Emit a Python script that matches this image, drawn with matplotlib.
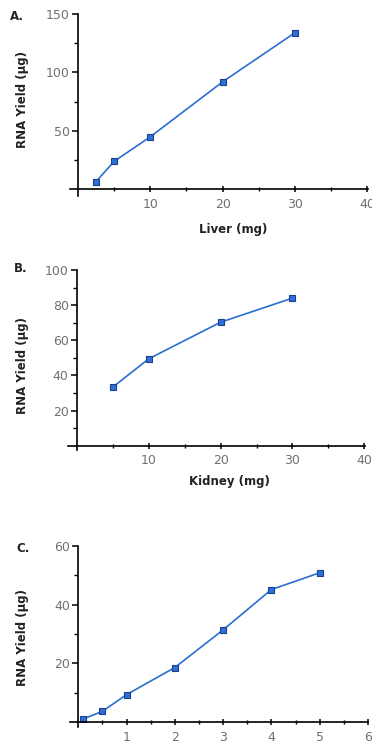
import matplotlib
matplotlib.use("Agg")
import matplotlib.pyplot as plt
from matplotlib.ticker import FixedLocator

# Panel A: liver
liver_mg = [2.5, 5, 10, 20, 30]
liver_yield = [6.7, 24, 45, 92, 134]
# Panel B: kidney
kidney_mg = [5, 10, 20, 30]
kidney_yield = [33.4, 49.5, 70.3, 84]
# Panel C
c_x = [0.1, 0.5, 1, 2, 3, 4, 5]
c_yield = [1.1, 3.7, 9.4, 18.6, 31.4, 45.1, 50.8]

LINE_COLOR = "#2a6fd0"
FACE_COLOR = "#2f6fd6"
EDGE_COLOR = "#1a3f90"
TICK_COLOR = "#707070"

W, H = 372, 744
fig = plt.figure(figsize=(W / 100, H / 100), dpi=100)


def px_axes(left, right, top, bottom):
    return fig.add_axes([left / W, 1 - bottom / H, (right - left) / W, (bottom - top) / H])


def style(ax, xlim, ylim, xmajor, xminor, ymajor, yminor):
    ax.set_xlim(*xlim)
    ax.set_ylim(*ylim)
    for s in ("top", "right"):
        ax.spines[s].set_visible(False)
    ax.spines["left"].set_position(("data", 0))
    ax.spines["bottom"].set_position(("data", 0))
    ax.spines["left"].set_linewidth(1.2)
    ax.spines["bottom"].set_linewidth(1.2)
    ax.xaxis.set_major_locator(FixedLocator(xmajor))
    ax.xaxis.set_minor_locator(FixedLocator(xminor))
    ax.yaxis.set_major_locator(FixedLocator(ymajor))
    ax.yaxis.set_minor_locator(FixedLocator(yminor))
    ax.tick_params(axis="both", which="major", length=4, width=1.1, labelsize=9,
                   labelcolor=TICK_COLOR, pad=2)
    ax.tick_params(axis="x", which="major", pad=4)
    ax.tick_params(axis="both", which="minor", length=3, width=1.0)
    ax.tick_params(axis="x", which="both", direction="inout")
    ax.patch.set_alpha(0)


def draw(ax, x, y):
    ax.plot(x, y, color=LINE_COLOR, linewidth=1.2, marker="s", markersize=5,
            markerfacecolor=FACE_COLOR, markeredgecolor=EDGE_COLOR, markeredgewidth=0.8,
            clip_on=False)


# A
axA = px_axes(70, 368, 14, 196)
draw(axA, liver_mg, liver_yield)
style(axA, (-1.1, 40.1), (-5.6, 150), [10, 20, 30, 40], [5, 15, 25, 35],
      [50, 100, 150], [25, 75, 125])

# B
axB = px_axes(68, 365, 270, 450)
draw(axB, kidney_mg, kidney_yield)
style(axB, (-1.25, 40.1), (-2.4, 100), [10, 20, 30, 40], [5, 15, 25, 35],
      [20, 40, 60, 80, 100], [10, 30, 50, 70, 90])

# C
axC = px_axes(70, 368, 545.7, 727)
draw(axC, c_x, c_yield)
style(axC, (-0.17, 6.0), (-1.6, 60), [1, 2, 3, 4, 5, 6], [0.5, 1.5, 2.5, 3.5, 4.5, 5.5],
      [20, 40, 60], [10, 30, 50])

# panel letters
for label, (px, py) in {"A.": (17, 16), "B.": (21, 268), "C.": (23, 548)}.items():
    fig.text(px / W, 1 - py / H, label, fontsize=8.5, fontweight="bold",
             ha="center", va="center", color="#222222")

# y labels
for cy in (100, 365, 637):
    fig.text(23 / W, 1 - cy / H, "RNA Yield (µg)", rotation=90, fontsize=8.5,
             fontweight="bold", ha="center", va="center", color="#222222")

# x labels
fig.text(233 / W, 1 - 230 / H, "Liver (mg)", fontsize=8.5, fontweight="bold",
         ha="center", va="center", color="#222222")
fig.text(229 / W, 1 - 481 / H, "Kidney (mg)", fontsize=8.5, fontweight="bold",
         ha="center", va="center", color="#222222")

fig.savefig("out.png", dpi=100)
